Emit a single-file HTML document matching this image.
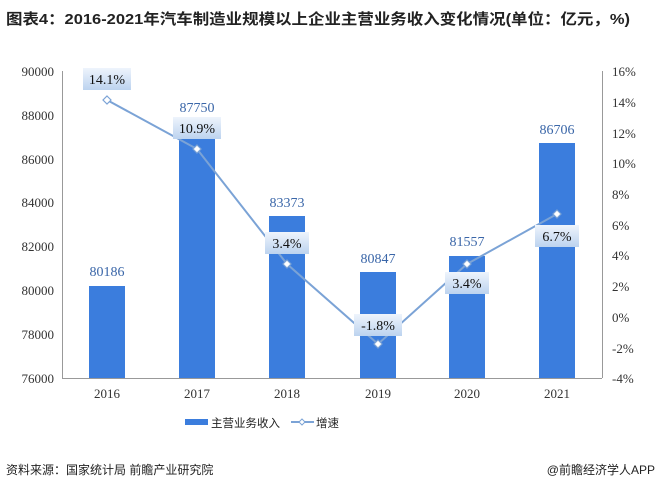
<!DOCTYPE html><html><head><meta charset="utf-8"><style>body{margin:0;background:#fff}svg{display:block}</style></head><body>
<svg width="660" height="492" xmlns="http://www.w3.org/2000/svg" font-family="Liberation Serif, Noto Serif CJK SC, serif">
<defs><linearGradient id="g" x1="0" y1="0" x2="0" y2="1"><stop offset="0" stop-color="#eef4fc"/><stop offset="1" stop-color="#bcd3ef"/></linearGradient></defs>
<text x="6" y="24" font-family="Liberation Sans, Noto Sans CJK SC, sans-serif" font-weight="bold" font-size="15" fill="#222" textLength="624" lengthAdjust="spacingAndGlyphs">图表4：2016-2021年汽车制造业规模以上企业主营业务收入变化情况(单位：亿元，%)</text>
<g stroke="#999" stroke-width="1"><line x1="62.5" y1="71" x2="62.5" y2="378"/><line x1="602.5" y1="71" x2="602.5" y2="378"/><line x1="62" y1="378.5" x2="602" y2="378.5"/></g>
<g font-size="13" fill="#333" text-anchor="end">
<text x="54" y="76">90000</text><text x="54" y="120">88000</text><text x="54" y="164">86000</text><text x="54" y="207">84000</text><text x="54" y="251">82000</text><text x="54" y="295">80000</text><text x="54" y="339">78000</text><text x="54" y="383">76000</text></g>
<g font-size="13" fill="#333" text-anchor="start">
<text x="612" y="76">16%</text><text x="612" y="107">14%</text><text x="612" y="138">12%</text><text x="612" y="168">10%</text><text x="612" y="199">8%</text><text x="612" y="230">6%</text><text x="612" y="260">4%</text><text x="612" y="291">2%</text><text x="612" y="322">0%</text><text x="612" y="353">-2%</text><text x="612" y="383">-4%</text></g>
<g fill="#3b7ddd"><rect x="89" y="286" width="36" height="92"/><rect x="179" y="120" width="36" height="258"/><rect x="269" y="216" width="36" height="162"/><rect x="360" y="272" width="36" height="106"/><rect x="449" y="256" width="36" height="122"/><rect x="539" y="143" width="36" height="235"/></g>
<g font-size="14" fill="#3a66a8" text-anchor="middle"><text x="107" y="276">80186</text><text x="197" y="112">87750</text><text x="287" y="207">83373</text><text x="378" y="263">80847</text><text x="467" y="246">81557</text><text x="557" y="134">86706</text></g>
<g font-size="13" fill="#333" text-anchor="middle"><text x="107" y="398">2016</text><text x="197" y="398">2017</text><text x="287" y="398">2018</text><text x="378" y="398">2019</text><text x="467" y="398">2020</text><text x="557" y="398">2021</text></g>
<polyline points="107,100 197,149 287,264 378,344 467,264 557,214" fill="none" stroke="#7ba3d6" stroke-width="2"/>
<g fill="#fff" stroke="#7ba3d6" stroke-width="1.2"><path d="M107,96 l4,4 -4,4 -4,-4z"/><path d="M197,145 l4,4 -4,4 -4,-4z"/><path d="M287,260 l4,4 -4,4 -4,-4z"/><path d="M378,340 l4,4 -4,4 -4,-4z"/><path d="M467,260 l4,4 -4,4 -4,-4z"/><path d="M557,210 l4,4 -4,4 -4,-4z"/></g>
<g fill="url(#g)"><rect x="83" y="68" width="48" height="22"/><rect x="173" y="117" width="48" height="22"/><rect x="265" y="232" width="44" height="22"/><rect x="354" y="314" width="48" height="22"/><rect x="445" y="272" width="44" height="22"/><rect x="535" y="225" width="44" height="22"/></g>
<g font-size="14" fill="#111" text-anchor="middle"><text x="107" y="84">14.1%</text><text x="197" y="133">10.9%</text><text x="287" y="248">3.4%</text><text x="378" y="330">-1.8%</text><text x="467" y="288">3.4%</text><text x="557" y="241">6.7%</text></g>
<g font-family="Liberation Sans, Noto Sans CJK SC, sans-serif" font-size="11.5" fill="#222">
<rect x="185" y="419" width="23" height="6" fill="#3b7ddd"/><text x="211" y="427">主营业务收入</text>
<line x1="291" y1="422" x2="314" y2="422" stroke="#7ba3d6" stroke-width="2"/><path d="M302,419 l3,3 -3,3 -3,-3z" fill="#fff" stroke="#7ba3d6"/><text x="316" y="427">增速</text>
<text x="6" y="474" font-size="12">资料来源：国家统计局 前瞻产业研究院</text>
<text x="655" y="474" font-size="12" text-anchor="end">@前瞻经济学人APP</text></g>
</svg></body></html>
